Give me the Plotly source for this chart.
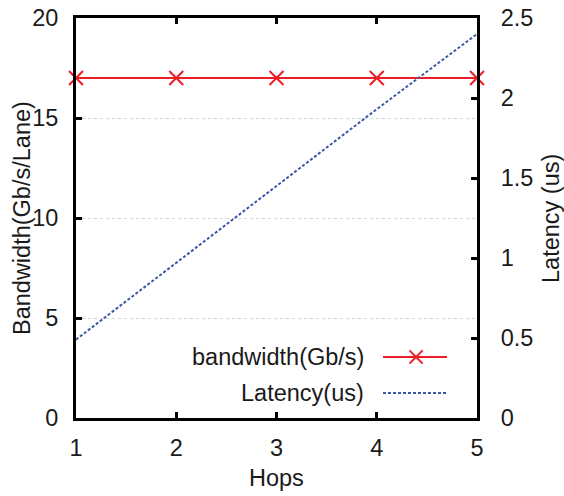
import plotly.graph_objects as go

hops = [1, 2, 3, 4, 5]
bandwidth = [17, 17, 17, 17, 17]
latency = [0.49, 0.97, 1.45, 1.93, 2.40]

x_ticks = [1, 2, 3, 4, 5]
left_ticks = [0, 5, 10, 15, 20]
right_ticks = [0, 0.5, 1, 1.5, 2, 2.5]
right_labels = ["0", "0.5", "1", "1.5", "2", "2.5"]

names = ["bandwidth(Gb/s)", "Latency(us)"]
x_title = "Hops"
y_title = "Bandwidth(Gb/s/Lane)"
y2_title = "Latency (us)"

RED = "#ee1c25"
BLUE = "#3b55a8"
FONT = "Liberation Sans, Arial, sans-serif"
FS = 23.5
TXT = "#1a1a1a"

fig = go.Figure()
fig.add_trace(go.Scatter(
    x=hops, y=bandwidth, mode="lines+markers", name=names[0],
    line=dict(color=RED, width=2),
    marker=dict(symbol="x-thin", size=14, color=RED, line=dict(width=2, color=RED)),
    cliponaxis=False, yaxis="y", showlegend=False))
fig.add_trace(go.Scatter(
    x=hops, y=latency, mode="lines", name=names[1],
    line=dict(color=BLUE, width=2, dash="3px,2px"),
    yaxis="y2", showlegend=False))

axis_common = dict(showline=True, linecolor="black", linewidth=3,
                   ticks="inside", ticklen=6, tickwidth=2.5, tickcolor="black",
                   tickfont=dict(family=FONT, size=FS, color=TXT),
                   zeroline=False, automargin=False)

fig.update_layout(
    width=564, height=496,
    margin=dict(l=76, r=87, t=18, b=78),
    paper_bgcolor="white", plot_bgcolor="white",
    font=dict(family=FONT, size=FS, color=TXT),
    xaxis=dict(range=[1, 5], tickvals=x_ticks, mirror="ticks", showgrid=False,
               ticklabelstandoff=7, **axis_common),
    yaxis=dict(range=[0, 20], tickvals=left_ticks, mirror=True,
               showgrid=True, gridcolor="#d4d4dc", gridwidth=1, griddash="dot",
               ticklabelstandoff=10, **axis_common),
    yaxis2=dict(range=[0, 2.5], tickvals=right_ticks, ticktext=right_labels,
                overlaying="y", side="right", showgrid=False,
                ticklabelstandoff=16, **axis_common),
)

# axis titles
fig.add_annotation(x=0.5, y=-0.15, xref="paper", yref="paper", text=x_title,
                   showarrow=False, xanchor="center", yanchor="middle",
                   font=dict(family=FONT, size=FS, color=TXT))
fig.add_annotation(x=-0.1347, y=0.5, xref="paper", yref="paper", text=y_title,
                   showarrow=False, xanchor="center", yanchor="middle", textangle=-90,
                   font=dict(family=FONT, size=FS, color=TXT))
fig.add_annotation(x=1.1845, y=0.5, xref="paper", yref="paper", text=y2_title,
                   showarrow=False, xanchor="center", yanchor="middle", textangle=-90,
                   font=dict(family=FONT, size=FS, color=TXT))

# manual legend (text to the left of the sample, as in the reference)
rows_y = [0.1525, 0.0625]
text_x = 0.722
l0, l1 = 0.7656, 0.9252
mx = 0.848
for i, (nm, yy) in enumerate(zip(names, rows_y)):
    fig.add_annotation(x=text_x, y=yy, xref="paper", yref="paper", text=nm,
                       showarrow=False, xanchor="right", yanchor="middle",
                       font=dict(family=FONT, size=FS, color=TXT))
    if i == 0:
        fig.add_shape(type="line", xref="paper", yref="paper", x0=l0, x1=l1, y0=yy, y1=yy,
                      line=dict(color=RED, width=2))
        d = 0.0165
        fig.add_shape(type="line", xref="paper", yref="paper", x0=mx - d, x1=mx + d,
                      y0=yy - d, y1=yy + d, line=dict(color=RED, width=2))
        fig.add_shape(type="line", xref="paper", yref="paper", x0=mx - d, x1=mx + d,
                      y0=yy + d, y1=yy - d, line=dict(color=RED, width=2))
    else:
        fig.add_shape(type="line", xref="paper", yref="paper", x0=l0, x1=l1, y0=yy, y1=yy,
                      line=dict(color=BLUE, width=2, dash="3px,2px"))

fig.write_html("out.html")
